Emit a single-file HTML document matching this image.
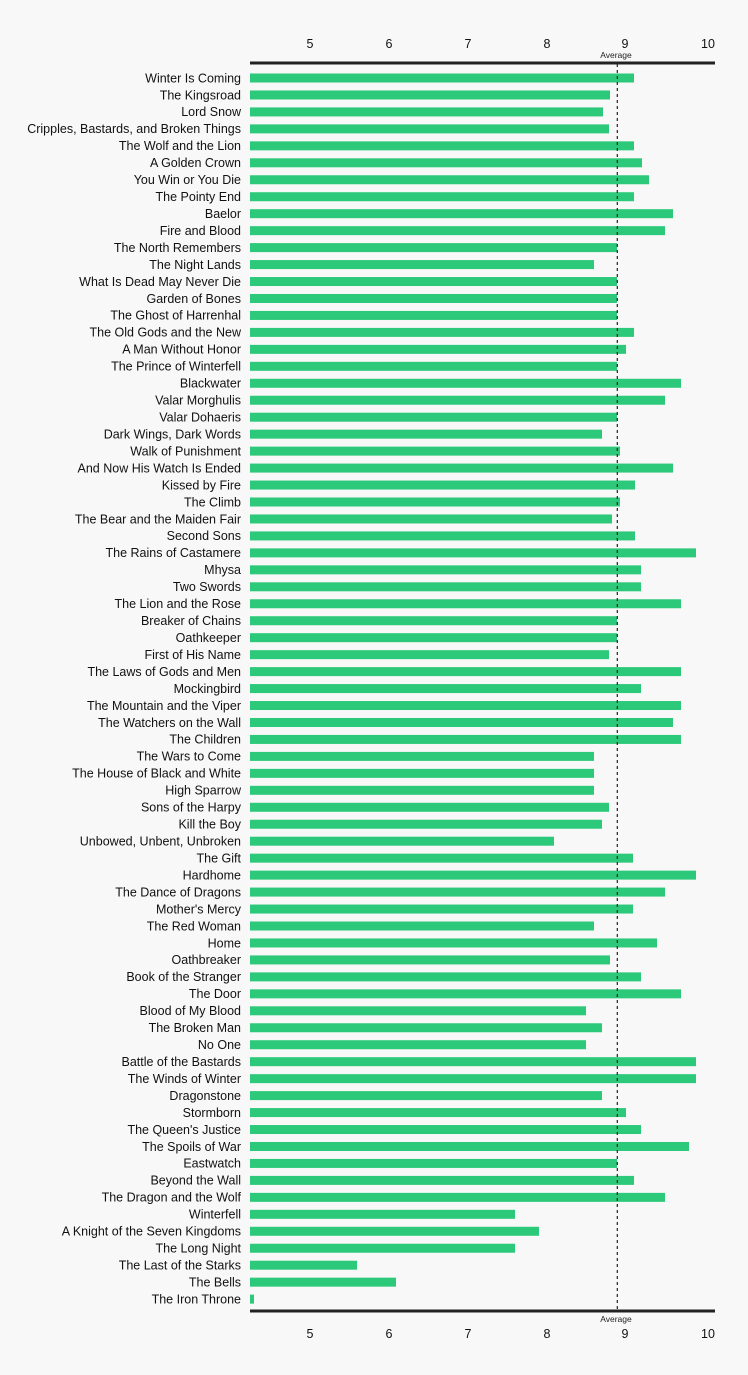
<!DOCTYPE html><html><head><meta charset="utf-8"><style>
html,body{margin:0;padding:0;background:#f8f8f8}
svg text{font-family:"Liberation Sans",sans-serif;fill:#111}
.l{font-size:12.5px;text-anchor:end}
.t{font-size:12.5px;text-anchor:middle}
.a{font-size:8.5px;text-anchor:middle;fill:#222}
</style></head><body>
<svg width="748" height="1370" xmlns="http://www.w3.org/2000/svg">
<rect width="748" height="1370" fill="#f8f8f8"/>
<g id="bars" fill="#2dc97a"></g>
<g id="labels"></g>
<line x1="617.3" y1="64" x2="617.3" y2="1310" stroke="#222" stroke-width="1.2" stroke-dasharray="3,3"/>
<rect x="250" y="61.5" width="465" height="3" fill="#222"/>
<rect x="250" y="1309.5" width="465" height="3" fill="#222"/>
<g class="tk">
<text class="t" x="310" y="48">5</text><text class="t" x="389" y="48">6</text><text class="t" x="468" y="48">7</text><text class="t" x="547" y="48">8</text><text class="t" x="625" y="48">9</text><text class="t" x="708" y="48">10</text>
<text class="t" x="310" y="1338">5</text><text class="t" x="389" y="1338">6</text><text class="t" x="468" y="1338">7</text><text class="t" x="547" y="1338">8</text><text class="t" x="625" y="1338">9</text><text class="t" x="708" y="1338">10</text>
</g>
<text class="a" x="616" y="58">Average</text>
<text class="a" x="616" y="1322">Average</text>
</svg>
<script>
const names=["Winter Is Coming","The Kingsroad","Lord Snow","Cripples, Bastards, and Broken Things","The Wolf and the Lion","A Golden Crown","You Win or You Die","The Pointy End","Baelor","Fire and Blood","The North Remembers","The Night Lands","What Is Dead May Never Die","Garden of Bones","The Ghost of Harrenhal","The Old Gods and the New","A Man Without Honor","The Prince of Winterfell","Blackwater","Valar Morghulis","Valar Dohaeris","Dark Wings, Dark Words","Walk of Punishment","And Now His Watch Is Ended","Kissed by Fire","The Climb","The Bear and the Maiden Fair","Second Sons","The Rains of Castamere","Mhysa","Two Swords","The Lion and the Rose","Breaker of Chains","Oathkeeper","First of His Name","The Laws of Gods and Men","Mockingbird","The Mountain and the Viper","The Watchers on the Wall","The Children","The Wars to Come","The House of Black and White","High Sparrow","Sons of the Harpy","Kill the Boy","Unbowed, Unbent, Unbroken","The Gift","Hardhome","The Dance of Dragons","Mother's Mercy","The Red Woman","Home","Oathbreaker","Book of the Stranger","The Door","Blood of My Blood","The Broken Man","No One","Battle of the Bastards","The Winds of Winter","Dragonstone","Stormborn","The Queen's Justice","The Spoils of War","Eastwatch","Beyond the Wall","The Dragon and the Wolf","Winterfell","A Knight of the Seven Kingdoms","The Long Night","The Last of the Starks","The Bells","The Iron Throne"];
const ends=[634,610,603,609,634,642,649,634,673,665,617,594,617,617,617,634,626,617,681,665,617,602,620,673,635,620,612,635,696,641,641,681,617,617,609,681,641,681,673,681,594,594,594,609,602,554,633,696,665,633,594,657,610,641,681,586,602,586,696,696,602,626,641,689,617,634,665,515,539,515,357,396,254];
const ns="http://www.w3.org/2000/svg";
const b=document.getElementById("bars"),l=document.getElementById("labels");
names.forEach((n,i)=>{const y=78+i*16.96;
const r=document.createElementNS(ns,"rect");r.setAttribute("x",250);r.setAttribute("y",(y-4.5).toFixed(2));r.setAttribute("width",ends[i]-250);r.setAttribute("height",9);b.appendChild(r);
const t=document.createElementNS(ns,"text");t.setAttribute("class","l");t.setAttribute("x",241);t.setAttribute("y",(y+4.3).toFixed(2));t.textContent=n;l.appendChild(t);});
</script>
</body></html>
